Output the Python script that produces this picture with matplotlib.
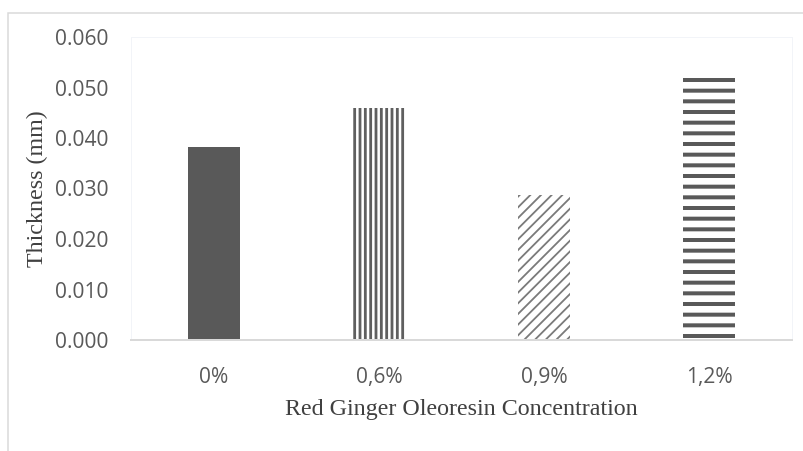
import matplotlib
matplotlib.use("Agg")
import matplotlib.pyplot as plt
from matplotlib.patches import Rectangle

# thickness of the films by oleoresin concentration
concentrations = ["0%", "0,6%", "0,9%", "1,2%"]
thickness = [0.0383, 0.0459, 0.0288, 0.0525]
yticks = [0.0, 0.01, 0.02, 0.03, 0.04, 0.05, 0.06]

DPI = 64
PX = 72.0 / DPI  # points per pixel at this dpi

fig = plt.figure(figsize=(803 / DPI, 451 / DPI), dpi=DPI)
fig.patch.set_facecolor("white")

# light chart frame around everything
fig.patches.append(Rectangle((8 / 803, -0.1), 1.2, (451 - 13) / 451 + 0.1,
                             transform=fig.transFigure, fill=False,
                             edgecolor="#d9d9d9", linewidth=1.5 * PX))

ax = fig.add_axes([131 / 803, 111 / 451, (792 - 131) / 803, (340 - 37) / 451])

dark = "#595959"
styles = [
    dict(fill="", lw=0, col=dark),
    dict(fill="||", lw=2.8, col="#5f5f5f"),
    dict(fill="//", lw=1.8, col="#7a7a7a"),
    dict(fill="-", lw=4.0, col=dark),
]

x = range(len(concentrations))
for xi, val, st in zip(x, thickness, styles):
    with plt.rc_context({"hatch.linewidth": st["lw"] * PX}):
        if st["fill"] == "":
            ax.bar(xi, val, width=0.315, color=st["col"], linewidth=0)
        else:
            ax.bar(xi, val, width=0.315, facecolor="white",
                   edgecolor=st["col"], hatch=st["fill"], linewidth=0)

ax.set_xlim(-0.5, len(concentrations) - 0.5)
ax.set_ylim(0, 0.06)
ax.set_yticks(yticks)
ax.set_yticklabels(["%.3f" % v for v in yticks])
ax.set_xticks(list(x))
ax.set_xticklabels(concentrations)

ax.tick_params(length=0, labelsize=21 * PX, labelcolor="#595959",
               labelfontfamily="Open Sans")
ax.tick_params(axis="y", pad=22 * PX)
ax.tick_params(axis="x", pad=27 * PX)

for side in ["left", "right", "top"]:
    ax.spines[side].set_color("#f2f4f8")
    ax.spines[side].set_linewidth(1 * PX)
ax.spines["bottom"].set_color("#d9d9d9")
ax.spines["bottom"].set_linewidth(2 * PX)

ax.set_ylabel("Thickness (mm)", family="Liberation Serif", fontsize=24 * PX,
              color="#404040", labelpad=7 * PX)
ax.set_xlabel("Red Ginger Oleoresin Concentration", family="Liberation Serif",
              fontsize=24 * PX, color="#404040", labelpad=11 * PX)

fig.savefig("out.png", dpi=DPI)
